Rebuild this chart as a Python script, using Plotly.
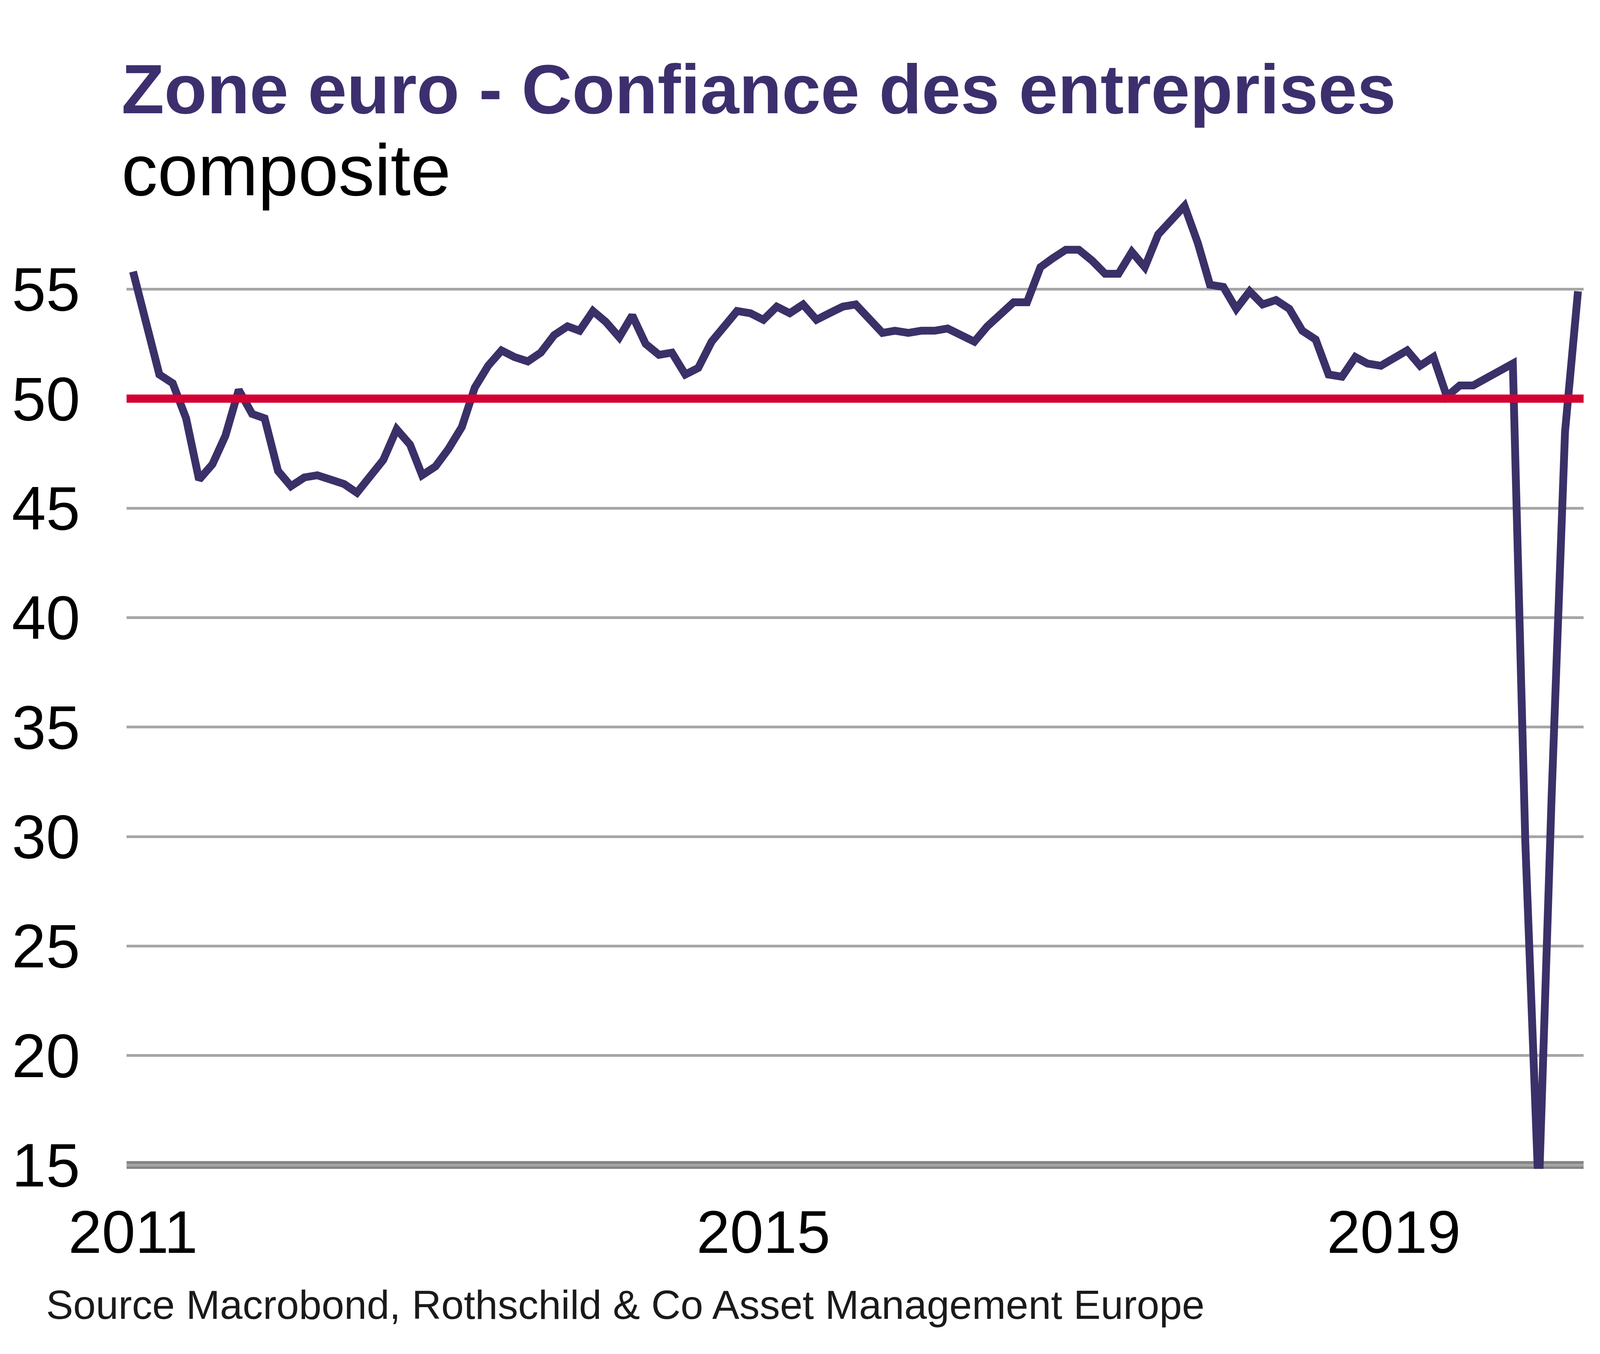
import plotly.graph_objects as go
import pandas as pd

# ---- data: Euro zone composite PMI, monthly, May 2011 - Jul 2020 ----
start_month = "2011-05-01"
pmi_2011 = [55.8, 53.3, 51.1, 50.7, 49.1, 46.3, 47.0, 48.3]
pmi_2012 = [50.4, 49.3, 49.1, 46.7, 46.0, 46.4, 46.5, 46.3, 46.1, 45.7, 46.5, 47.2]
pmi_2013 = [48.6, 47.9, 46.5, 46.9, 47.7, 48.7, 50.5, 51.5, 52.2, 51.9, 51.7, 52.1]
pmi_2014 = [52.9, 53.3, 53.1, 54.0, 53.5, 52.8, 53.8, 52.5, 52.0, 52.1, 51.1, 51.4]
pmi_2015 = [52.6, 53.3, 54.0, 53.9, 53.6, 54.2, 53.9, 54.3, 53.6, 53.9, 54.2, 54.3]
pmi_2016 = [53.6, 53.0, 53.1, 53.0, 53.1, 53.1, 53.2, 52.9, 52.6, 53.3, 53.9, 54.4]
pmi_2017 = [54.4, 56.0, 56.4, 56.8, 56.8, 56.3, 55.7, 55.7, 56.7, 56.0, 57.5, 58.1]
pmi_2018 = [58.8, 57.1, 55.2, 55.1, 54.1, 54.9, 54.3, 54.5, 54.1, 53.1, 52.7, 51.1]
pmi_2019 = [51.0, 51.9, 51.6, 51.5, 51.8, 52.2, 51.5, 51.9, 50.1, 50.6, 50.6, 50.9]
pmi_2020 = [51.3, 51.6, 29.7, 13.6, 31.9, 48.5, 54.9]

pmi = (pmi_2011 + pmi_2012 + pmi_2013 + pmi_2014 + pmi_2015 + pmi_2016
       + pmi_2017 + pmi_2018 + pmi_2019 + pmi_2020)
dates = pd.date_range(start_month, periods=len(pmi), freq="MS")

threshold = 50
axis_floor = 15
y_ticks = [15, 20, 25, 30, 35, 40, 45, 50, 55]
x_tick_dates = ["2011-05-01", "2015-05-01", "2019-05-01"]
x_tick_text = ["2011", "2015", "2019"]

title_text = "Zone euro - Confiance des entreprises"
subtitle_text = "composite"
source_text = "Source Macrobond, Rothschild & Co Asset Management Europe"

# ---- layout geometry ----
W, H = 4224, 3467
L, R, T, B = 316, 178, 452, 482
PW, PH = W - L - R, H - T - B
PX_PER_UNIT = 56.07
BASE_W = 20

PURPLE = "#3b3068"
TITLE_PURPLE = "#3d2f6e"
RED = "#d50032"
GRID = "#a6a6a6"
BASE = "#858585"
FONT = "Liberation Sans, Arial, sans-serif"

fig = go.Figure()
fig.add_trace(go.Scatter(
    x=dates, y=pmi, mode="lines",
    line=dict(color=PURPLE, width=20),
    showlegend=False, hoverinfo="x+y",
))

# baseline at 15 (between grid and data) and threshold at 50 (above data)
fig.add_shape(type="line", xref="paper", x0=0, x1=1, yref="y",
              y0=axis_floor, y1=axis_floor,
              line=dict(color=BASE, width=BASE_W), layer="between")
fig.add_shape(type="line", xref="paper", x0=0, x1=1, yref="y",
              y0=threshold, y1=threshold,
              line=dict(color=RED, width=21), layer="above")

def px_x(px):
    return (px - L) / PW

def px_y(py):
    return (T + PH - py) / PH

fig.add_annotation(text=f"<b>{title_text}</b>", xref="paper", yref="paper",
                   x=px_x(301), y=px_y(220), xanchor="left", yanchor="middle",
                   showarrow=False, font=dict(family=FONT, size=179, color=TITLE_PURPLE))
fig.add_annotation(text=subtitle_text, xref="paper", yref="paper",
                   x=px_x(301), y=px_y(428), xanchor="left", yanchor="middle",
                   showarrow=False, font=dict(family=FONT, size=185, color="#000000"))
fig.add_annotation(text=source_text, xref="paper", yref="paper",
                   x=px_x(108), y=px_y(3333), xanchor="left", yanchor="middle",
                   showarrow=False, font=dict(family=FONT, size=104, color="#1a1a1a"))

fig.update_layout(
    width=W, height=H,
    margin=dict(l=L, r=R, t=T, b=B, pad=0),
    paper_bgcolor="white", plot_bgcolor="white",
    font=dict(family=FONT, color="#000000"),
    xaxis=dict(
        type="date",
        range=["2011-04-16", "2020-07-14"],
        tickvals=x_tick_dates, ticktext=x_tick_text,
        showgrid=False, zeroline=False, showline=False,
        ticks="", ticklabelstandoff=60,
        tickfont=dict(family=FONT, size=154, color="#000000"),
        fixedrange=True,
    ),
    yaxis=dict(
        range=[axis_floor - (BASE_W / 2) / PX_PER_UNIT, 60],
        tickvals=y_ticks,
        showgrid=True, gridcolor=GRID, gridwidth=7,
        zeroline=False, showline=False, ticks="",
        ticklabelstandoff=118,
        tickfont=dict(family=FONT, size=157, color="#000000"),
        fixedrange=True,
    ),
)

fig.write_html("out.html")
